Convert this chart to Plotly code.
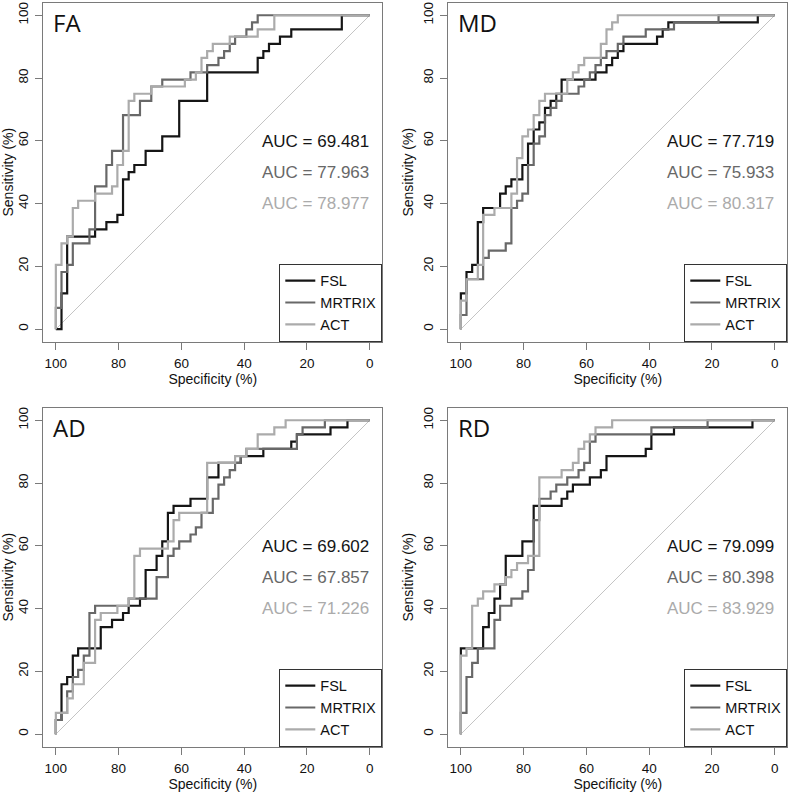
import plotly.graph_objects as go

# ---------------- data ----------------
panels = ["FA", "MD", "AD", "RD"]
methods = ["FSL", "MRTRIX", "ACT"]
colors = ["#151515", "#686868", "#ababab"]
ticks = [0, 20, 40, 60, 80, 100]

auc_fa = [69.481, 77.963, 78.977]
auc_md = [77.719, 75.933, 80.317]
auc_ad = [69.602, 67.857, 71.226]
auc_rd = [79.099, 80.398, 83.929]

# ROC corner points: (specificity %, sensitivity %)
fa_fsl = [(100, 0), (98.2, 0), (98.2, 11.4), (96.4, 11.4), (96.4, 29.5), (87.5, 29.5), (87.5, 31.8),
          (83.9, 31.8), (83.9, 34.1), (80.4, 34.1), (80.4, 36.4), (78.6, 36.4), (78.6, 47.7), (76.8, 47.7),
          (76.8, 50.0), (75.0, 50.0), (75.0, 52.3), (71.4, 52.3), (71.4, 56.8), (66.1, 56.8), (66.1, 61.4),
          (60.7, 61.4), (60.7, 72.7), (51.8, 72.7), (51.8, 81.8), (35.7, 81.8), (35.7, 86.4), (33.9, 86.4),
          (33.9, 88.6), (32.1, 88.6), (32.1, 90.9), (28.6, 90.9), (28.6, 93.2), (25.0, 93.2), (25.0, 95.5),
          (8.9, 95.5), (8.9, 100), (0, 100)]
fa_mrtrix = [(100, 0), (100, 6.8), (98.2, 6.8), (98.2, 18.2), (96.4, 18.2), (96.4, 20.5), (94.6, 20.5),
             (94.6, 27.3), (89.3, 27.3), (89.3, 31.8), (87.5, 31.8), (87.5, 45.5), (83.9, 45.5), (83.9, 52.3),
             (82.1, 52.3), (82.1, 56.8), (78.6, 56.8), (78.6, 68.2), (73.2, 68.2), (73.2, 72.7), (69.6, 72.7),
             (69.6, 77.3), (66.1, 77.3), (66.1, 79.5), (57.1, 79.5), (57.1, 81.8), (51.8, 81.8), (51.8, 84.1),
             (48.2, 84.1), (48.2, 86.4), (46.4, 86.4), (46.4, 88.6), (44.6, 88.6), (44.6, 90.9), (42.9, 90.9),
             (42.9, 93.2), (39.3, 93.2), (39.3, 95.5), (37.5, 95.5), (37.5, 97.7), (35.7, 97.7), (35.7, 100),
             (0, 100)]
fa_act = [(100, 0), (100, 20.5), (98.2, 20.5), (98.2, 27.3), (96.4, 27.3), (96.4, 29.5), (94.6, 29.5),
          (94.6, 38.6), (92.9, 38.6), (92.9, 40.9), (87.5, 40.9), (87.5, 43.2), (82.1, 43.2), (82.1, 45.5),
          (80.4, 45.5), (80.4, 52.3), (78.6, 52.3), (78.6, 56.8), (76.8, 56.8), (76.8, 72.7), (75.0, 72.7),
          (75.0, 75.0), (69.6, 75.0), (69.6, 77.3), (58.9, 77.3), (58.9, 79.5), (55.4, 79.5), (55.4, 81.8),
          (53.6, 81.8), (53.6, 86.4), (51.8, 86.4), (51.8, 88.6), (50.0, 88.6), (50.0, 90.9), (44.6, 90.9),
          (44.6, 93.2), (35.7, 93.2), (35.7, 95.5), (30.4, 95.5), (30.4, 100), (0, 100)]

md_fsl = [(100, 0), (100, 11.4), (98.2, 11.4), (98.2, 18.2), (96.4, 18.2), (96.4, 20.5), (94.6, 20.5),
          (94.6, 34.1), (92.9, 34.1), (92.9, 38.6), (87.5, 38.6), (87.5, 43.2), (85.7, 43.2), (85.7, 45.5),
          (83.9, 45.5), (83.9, 47.7), (80.4, 47.7), (80.4, 52.3), (78.6, 52.3), (78.6, 59.1), (76.8, 59.1),
          (76.8, 63.6), (75.0, 63.6), (75.0, 65.9), (73.2, 65.9), (73.2, 70.5), (71.4, 70.5), (71.4, 72.7),
          (69.6, 72.7), (69.6, 75.0), (67.9, 75.0), (67.9, 79.5), (57.1, 79.5), (57.1, 81.8), (53.6, 81.8),
          (53.6, 84.1), (51.8, 84.1), (51.8, 86.4), (50.0, 86.4), (50.0, 88.6), (48.2, 88.6), (48.2, 90.9),
          (37.5, 90.9), (37.5, 93.2), (35.7, 93.2), (35.7, 95.5), (33.9, 95.5), (33.9, 97.7), (5.4, 97.7),
          (5.4, 100), (0, 100)]
md_mrtrix = [(100, 0), (100, 4.5), (98.2, 4.5), (98.2, 15.9), (92.9, 15.9), (92.9, 22.7), (91.1, 22.7),
             (91.1, 25.0), (85.7, 25.0), (85.7, 27.3), (83.9, 27.3), (83.9, 38.6), (82.1, 38.6), (82.1, 40.9),
             (80.4, 40.9), (80.4, 43.2), (78.6, 43.2), (78.6, 52.3), (76.8, 52.3), (76.8, 59.1), (75.0, 59.1),
             (75.0, 61.4), (73.2, 61.4), (73.2, 68.2), (71.4, 68.2), (71.4, 70.5), (69.6, 70.5), (69.6, 72.7),
             (67.9, 72.7), (67.9, 75.0), (62.5, 75.0), (62.5, 77.3), (60.7, 77.3), (60.7, 79.5), (58.9, 79.5),
             (58.9, 81.8), (57.1, 81.8), (57.1, 84.1), (55.4, 84.1), (55.4, 86.4), (53.6, 86.4), (53.6, 88.6),
             (50.0, 88.6), (50.0, 90.9), (48.2, 90.9), (48.2, 93.2), (41.1, 93.2), (41.1, 95.5), (32.1, 95.5),
             (32.1, 97.7), (17.9, 97.7), (17.9, 100), (0, 100)]
md_act = [(100, 0), (100, 9.1), (98.2, 9.1), (98.2, 15.9), (94.6, 15.9), (94.6, 20.5), (92.9, 20.5),
          (92.9, 36.4), (89.3, 36.4), (89.3, 38.6), (83.9, 38.6), (83.9, 43.2), (82.1, 43.2), (82.1, 54.5),
          (80.4, 54.5), (80.4, 61.4), (78.6, 61.4), (78.6, 63.6), (76.8, 63.6), (76.8, 68.2), (75.0, 68.2),
          (75.0, 72.7), (73.2, 72.7), (73.2, 75.0), (66.1, 75.0), (66.1, 79.5), (64.3, 79.5), (64.3, 81.8),
          (62.5, 81.8), (62.5, 84.1), (60.7, 84.1), (60.7, 86.4), (55.4, 86.4), (55.4, 90.9), (53.6, 90.9),
          (53.6, 95.5), (51.8, 95.5), (51.8, 97.7), (50.0, 97.7), (50.0, 100), (0, 100)]

ad_fsl = [(100, 0), (100, 4.5), (98.2, 4.5), (98.2, 15.9), (96.4, 15.9), (96.4, 18.2), (94.6, 18.2),
          (94.6, 25.0), (92.9, 25.0), (92.9, 27.3), (85.7, 27.3), (85.7, 34.1), (82.1, 34.1), (82.1, 36.4),
          (78.6, 36.4), (78.6, 38.6), (76.8, 38.6), (76.8, 40.9), (73.2, 40.9), (73.2, 43.2), (71.4, 43.2),
          (71.4, 52.3), (67.9, 52.3), (67.9, 56.8), (66.1, 56.8), (66.1, 61.4), (64.3, 61.4), (64.3, 70.5),
          (62.5, 70.5), (62.5, 72.7), (57.1, 72.7), (57.1, 75.0), (51.8, 75.0), (51.8, 81.8), (48.2, 81.8),
          (48.2, 86.4), (41.1, 86.4), (41.1, 88.6), (33.9, 88.6), (33.9, 90.9), (25.0, 90.9), (25.0, 93.2),
          (23.2, 93.2), (23.2, 95.5), (12.5, 95.5), (12.5, 97.7), (7.1, 97.7), (7.1, 100), (0, 100)]
ad_mrtrix = [(100, 0), (100, 4.5), (98.2, 4.5), (98.2, 6.8), (96.4, 6.8), (96.4, 13.6), (94.6, 13.6),
             (94.6, 18.2), (92.9, 18.2), (92.9, 20.5), (91.1, 20.5), (91.1, 25.0), (89.3, 25.0), (89.3, 38.6),
             (87.5, 38.6), (87.5, 40.9), (76.8, 40.9), (76.8, 43.2), (67.9, 43.2), (67.9, 50.0), (64.3, 50.0),
             (64.3, 56.8), (62.5, 56.8), (62.5, 59.1), (60.7, 59.1), (60.7, 61.4), (57.1, 61.4), (57.1, 63.6),
             (55.4, 63.6), (55.4, 65.9), (53.6, 65.9), (53.6, 70.5), (50.0, 70.5), (50.0, 75.0), (48.2, 75.0),
             (48.2, 79.5), (46.4, 79.5), (46.4, 81.8), (44.6, 81.8), (44.6, 84.1), (42.9, 84.1), (42.9, 86.4),
             (41.1, 86.4), (41.1, 88.6), (39.3, 88.6), (39.3, 90.9), (23.2, 90.9), (23.2, 95.5), (21.4, 95.5),
             (21.4, 97.7), (14.3, 97.7), (14.3, 100), (0, 100)]
ad_act = [(100, 0), (100, 6.8), (96.4, 6.8), (96.4, 11.4), (94.6, 11.4), (94.6, 15.9), (91.1, 15.9),
          (91.1, 22.7), (87.5, 22.7), (87.5, 36.4), (85.7, 36.4), (85.7, 38.6), (80.4, 38.6), (80.4, 40.9),
          (76.8, 40.9), (76.8, 43.2), (75.0, 43.2), (75.0, 56.8), (73.2, 56.8), (73.2, 59.1), (64.3, 59.1),
          (64.3, 61.4), (62.5, 61.4), (62.5, 68.2), (60.7, 68.2), (60.7, 70.5), (51.8, 70.5), (51.8, 86.4),
          (42.9, 86.4), (42.9, 88.6), (39.3, 88.6), (39.3, 90.9), (35.7, 90.9), (35.7, 95.5), (30.4, 95.5),
          (30.4, 97.7), (26.8, 97.7), (26.8, 100), (0, 100)]

rd_fsl = [(100, 0), (100, 27.3), (92.9, 27.3), (92.9, 34.1), (91.1, 34.1), (91.1, 38.6), (89.3, 38.6),
          (89.3, 43.2), (87.5, 43.2), (87.5, 47.7), (85.7, 47.7), (85.7, 56.8), (80.4, 56.8), (80.4, 61.4),
          (76.8, 61.4), (76.8, 72.7), (67.9, 72.7), (67.9, 75.0), (66.1, 75.0), (66.1, 77.3), (64.3, 77.3),
          (64.3, 79.5), (58.9, 79.5), (58.9, 81.8), (55.4, 81.8), (55.4, 84.1), (53.6, 84.1), (53.6, 88.6),
          (41.1, 88.6), (41.1, 90.9), (39.3, 90.9), (39.3, 95.5), (32.1, 95.5), (32.1, 97.7), (7.1, 97.7),
          (7.1, 100), (0, 100)]
rd_mrtrix = [(100, 0), (100, 6.8), (98.2, 6.8), (98.2, 18.2), (96.4, 18.2), (96.4, 22.7), (94.6, 22.7),
             (94.6, 27.3), (89.3, 27.3), (89.3, 36.4), (87.5, 36.4), (87.5, 40.9), (83.9, 40.9), (83.9, 43.2),
             (80.4, 43.2), (80.4, 45.5), (78.6, 45.5), (78.6, 52.3), (76.8, 52.3), (76.8, 68.2), (75.0, 68.2),
             (75.0, 75.0), (71.4, 75.0), (71.4, 77.3), (69.6, 77.3), (69.6, 79.5), (66.1, 79.5), (66.1, 81.8),
             (62.5, 81.8), (62.5, 84.1), (60.7, 84.1), (60.7, 86.4), (58.9, 86.4), (58.9, 93.2), (57.1, 93.2),
             (57.1, 95.5), (39.3, 95.5), (39.3, 97.7), (21.4, 97.7), (21.4, 100), (0, 100)]
rd_act = [(100, 0), (100, 25.0), (98.2, 25.0), (98.2, 27.3), (96.4, 27.3), (96.4, 40.9), (94.6, 40.9),
          (94.6, 43.2), (92.9, 43.2), (92.9, 45.5), (89.3, 45.5), (89.3, 47.7), (85.7, 47.7), (85.7, 50.0),
          (83.9, 50.0), (83.9, 52.3), (82.1, 52.3), (82.1, 54.5), (78.6, 54.5), (78.6, 56.8), (75.0, 56.8),
          (75.0, 81.8), (67.9, 81.8), (67.9, 84.1), (64.3, 84.1), (64.3, 86.4), (62.5, 86.4), (62.5, 90.9),
          (60.7, 90.9), (60.7, 93.2), (58.9, 93.2), (58.9, 95.5), (57.1, 95.5), (57.1, 97.7), (51.8, 97.7),
          (51.8, 100), (0, 100)]

curves = [[fa_fsl, fa_mrtrix, fa_act], [md_fsl, md_mrtrix, md_act],
          [ad_fsl, ad_mrtrix, ad_act], [rd_fsl, rd_mrtrix, rd_act]]
aucs = [auc_fa, auc_md, auc_ad, auc_rd]

# ---------------- layout geometry ----------------
W, H = 790, 792
BOX = 339.0
box_px = [(43.3, 2.7), (448.3, 2.7), (43.3, 407.7), (448.3, 407.7)]
FONT = "Liberation Sans, Arial, Helvetica, sans-serif"
FRAME = "#7a7a7a"

fig = go.Figure()
layout = dict(width=W, height=H, margin=dict(l=0, r=0, t=0, b=0),
              paper_bgcolor="white", plot_bgcolor="white",
              font=dict(family=FONT, size=14, color="black"), annotations=[])

for i, name in enumerate(panels):
    sfx = "" if i == 0 else str(i + 1)
    xa, ya = "x" + sfx, "y" + sfx
    lg = "legend" + sfx
    x0, y0 = box_px[i]
    xd = [x0 / W, (x0 + BOX) / W]
    yd = [1 - (y0 + BOX) / H, 1 - y0 / H]

    # chance diagonal
    fig.add_trace(go.Scatter(x=[100, 0], y=[0, 100], mode="lines", xaxis=xa, yaxis=ya,
                             line=dict(color="#c4c4c4", width=1), showlegend=False, hoverinfo="skip"))
    for j, m in enumerate(methods):
        pts = curves[i][j]
        fig.add_trace(go.Scatter(x=[p[0] for p in pts], y=[p[1] for p in pts], mode="lines",
                                 name=m, xaxis=xa, yaxis=ya, legend=lg,
                                 line=dict(color=colors[j], width=2.2)))

    axis_common = dict(tickvals=ticks, ticks="outside", ticklen=7, tickcolor=FRAME,
                       tickwidth=1, showline=True, linecolor=FRAME, linewidth=1, mirror=True,
                       showgrid=False, zeroline=False, tickfont=dict(size=13.5, color="#111"),
                       fixedrange=True)
    layout["xaxis" + sfx] = dict(axis_common, domain=xd, anchor=ya, range=[104, -4],
                                 ticklabelstandoff=2,
                                 title=dict(text="Specificity (%)", font=dict(size=14, color="#111"),
                                            standoff=3))
    layout["yaxis" + sfx] = dict(axis_common, domain=yd, anchor=xa, range=[-4, 104], tickangle=-90,
                                 ticklabelstandoff=2,
                                 title=dict(text="Sensitivity (%)", font=dict(size=14, color="#111"),
                                            standoff=3))
    layout[lg] = dict(x=xd[1], xanchor="right", y=yd[0], yanchor="bottom", bgcolor="white",
                      bordercolor="#333", borderwidth=1, tracegroupgap=0,
                      font=dict(family=FONT, size=14.5, color="#111"))

    layout["annotations"].append(dict(text=name, x=101.6, y=97.6, xref=xa, yref=ya, xanchor="left",
                                      yanchor="middle", showarrow=False,
                                      font=dict(family="Open Sans, Noto Sans, sans-serif", size=24,
                                                color="#111")))
    for j, (val, yy) in enumerate(zip(aucs[i], [59.7, 49.8, 40.0])):
        layout["annotations"].append(dict(text="AUC = %.3f" % val, x=-0.4, y=yy, xref=xa, yref=ya,
                                          xanchor="right", yanchor="middle", showarrow=False,
                                          font=dict(family=FONT, size=17, color=colors[j])))

fig.update_layout(**layout)
fig.write_html("out.html", config={"displayModeBar": False},
               post_script="document.body.style.margin='0';document.body.style.overflow='hidden';")
